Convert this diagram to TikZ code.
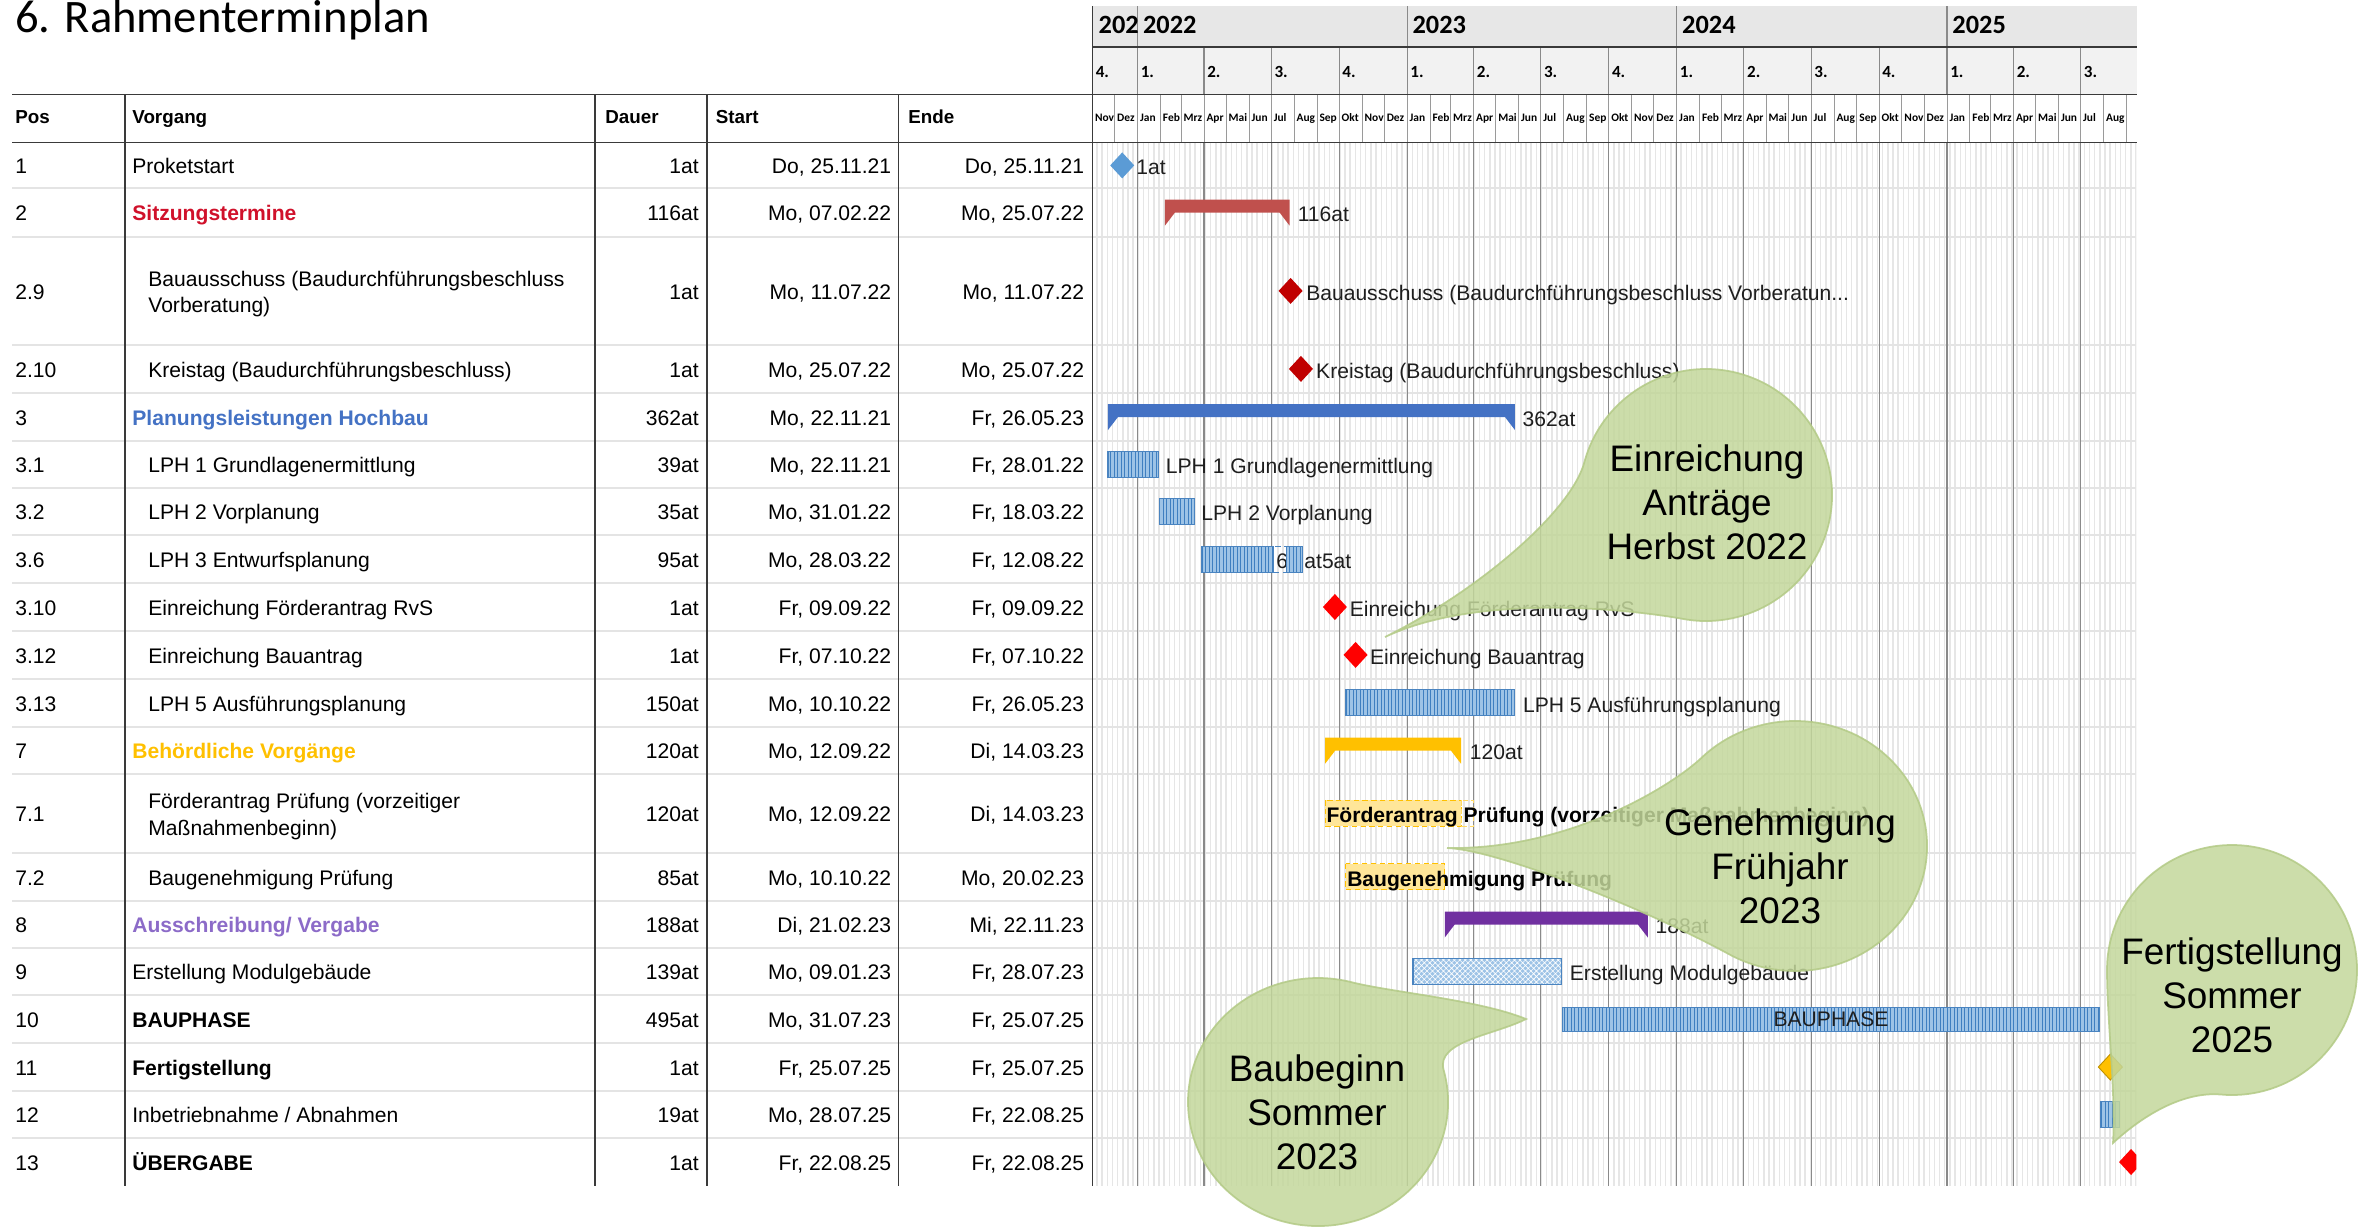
\documentclass[tikz,border=0pt]{standalone}
\usepackage{fontspec}
\setmainfont{Liberation Sans}
\newfontfamily\calfont{Carlito}
\usetikzlibrary{patterns.meta}

\definecolor{rowline}{HTML}{E4E4E4}
\definecolor{colline}{HTML}{3A3A3A}
\definecolor{qline}{HTML}{8A8A8A}
\definecolor{mline}{HTML}{9A9A9A}
\definecolor{weekend}{HTML}{E6E6E6}
\definecolor{yearfill}{HTML}{E7E7E7}
\definecolor{quartfill}{HTML}{F2F2F2}
\definecolor{sitzred}{HTML}{D0112B}
\definecolor{planblue}{HTML}{4472C4}
\definecolor{behgold}{HTML}{FFC000}
\definecolor{ausslila}{HTML}{8C6BC8}
\definecolor{barred}{HTML}{C0504D}
\definecolor{barblue}{HTML}{4472C4}
\definecolor{bargold}{HTML}{FFC000}
\definecolor{barlila}{HTML}{7030A0}
\definecolor{taskfill}{HTML}{9DC3E6}
\definecolor{taskline}{HTML}{3F7FC0}
\definecolor{taskedge}{HTML}{4A84C0}
\definecolor{msblue}{HTML}{5B9BD5}
\definecolor{msdark}{HTML}{C00000}
\definecolor{msred}{HTML}{FF0000}
\definecolor{msorange}{HTML}{FFC000}
\definecolor{msorangeedge}{HTML}{BF9000}
\definecolor{prueffill}{HTML}{FFE699}
\definecolor{bubfill}{HTML}{C3D79B}
\definecolor{bubedge}{HTML}{B3CA86}
\definecolor{lbltext}{HTML}{1E1E1E}

\tikzset{
  titel/.style={font=\calfont\fontsize{26.5}{31}\selectfont, anchor=base west, inner sep=0pt},
  cell/.style={font=\fontsize{12}{14}\selectfont, inner sep=0pt, text height=8.6pt, text depth=2.4pt},
  hdr/.style={font=\fontsize{10.7}{13}\selectfont\bfseries, anchor=base west, inner sep=0pt},
  vgplain/.style={},
  vgbold/.style={font=\fontsize{12}{14}\selectfont\bfseries},
  vgred/.style={vgbold, text=sitzred},
  vgblue/.style={vgbold, text=planblue},
  vggold/.style={vgbold, text=behgold},
  vglila/.style={vgbold, text=ausslila},
  vgtwo/.style={align=left, text height=, text depth=, font=\fontsize{12}{15.2}\selectfont},
  lbl/.style={cell, anchor=west, text=lbltext},
  lblbold/.style={lbl, font=\fontsize{12}{14}\selectfont\bfseries, text=black},
  yearlbl/.style={font=\calfont\fontsize{15}{18}\selectfont\bfseries, anchor=base west, inner sep=0pt},
  quartlbl/.style={font=\calfont\fontsize{9.7}{11}\selectfont\bfseries, anchor=base west, inner sep=0pt},
  monthlbl/.style={font=\calfont\fontsize{6.5}{8}\selectfont\bfseries, anchor=base west, inner sep=0pt},
  rowsep/.style={draw=rowline, line width=1.3pt},
  colsep/.style={draw=colline, line width=0.75pt},
  qsep/.style={draw=qline, line width=0.6pt},
  msep/.style={draw=mline, line width=0.5pt},
  taskbar/.style={draw=taskedge, line width=0.6pt, preaction={fill=taskfill},
    pattern={Lines[angle=90,distance=2pt,line width=0.5pt]}, pattern color=taskline},
  modulbar/.style={draw=taskedge, line width=0.6pt, preaction={fill=taskfill},
    pattern={Hatch[angle=45,distance=2.2pt,line width=0.35pt]}, pattern color=white},
  pruefbar/.style={fill=prueffill, draw=behgold, line width=0.4pt, densely dashed},
  bubble/.style={fill=bubfill, draw=bubedge, line width=1pt, opacity=0.85},
  bubtxt/.style={font=\fontsize{21}{25}\selectfont, align=center, inner sep=0pt},
}

% summary bar: row centre, start day, end day, colour
\newcommand{\sumbar}[4]{\fill[#4] (#2,#1-12.7) -- (#3,#1-12.7) -- (#3,#1+13.3)
  -- (#3-13.5,#1+0.3) -- (#2+13.5,#1+0.3) -- (#2,#1+13.3) -- cycle;}
% milestone: row centre, day, options
\newcommand{\milestone}[3]{\path[#3] (#2,#1) -- (#2+16.25,#1-13) -- (#2+32.5,#1)
  -- (#2+16.25,#1+13) -- cycle;}

\begin{document}
\begin{tikzpicture}[x=0.2mm, y=-0.2mm]
\useasboundingbox (0,0) rectangle (2379,1228);

\node[titel] (titel) at (15,32) {6. Rahmenterminplan};

% timeline header background
\fill[yearfill] (1092.5,6) rectangle (2137,47);
\fill[quartfill] (1092.5,47) rectangle (2137,94.5);

% weekends, in days from 1.1.2022
\begin{scope}[xshift=227.5mm, x=0.1477mm]
  \clip (-61.3,0) rectangle (1352.3,1190);
  \foreach \k in {-9,...,193}
    \fill[weekend] (7*\k,142.7) rectangle (7*\k+2,1185.7);
\end{scope}

% row lines
\foreach \ry in {188,236.7,345,392.7,440.7,487.7,535,583.3,630.7,679,726.7,774,852.7,900.7,947.7,995,1043.3,1090.7,1138.3}
  \draw[rowsep] (12,\ry) -- (2136,\ry);

\begin{scope}[xshift=227.5mm, x=0.1477mm]
  \clip (-61.3,0) rectangle (1352.3,1190);
  % grid and header
  \foreach \qd in {0,90,181,273,365,455,546,638,730,821,912,1004,1096,1186,1277} {
    \draw[qsep] (\qd,142.7) -- (\qd,1185.7);
    \draw[qsep] (\qd,47) -- (\qd,94.5);
  }
  \foreach \yd in {0,365,730,1096}
    \draw[qsep] (\yd,6) -- (\yd,47);
  \node[yearlbl] (j2021) at (-53,33.3) {202};
  \node[yearlbl] (j2022) at (7,33.3) {2022};
  \node[yearlbl] (j2023) at (372,33.3) {2023};
  \node[yearlbl] (j2024) at (737,33.3) {2024};
  \node[yearlbl] (j2025) at (1103,33.3) {2025};
  \foreach \qd/\qn [count=\i] in {-61/4,0/1,90/2,181/3,273/4,365/1,455/2,546/3,638/4,730/1,821/2,912/3,1004/4,1096/1,1186/2,1277/3}
    \node[quartlbl] (q\i) at (\qd+4,77.3) {\qn.};
  \foreach \md/\mn [count=\i] in {-61/Nov,-31/Dez,0/Jan,31/Feb,59/Mrz,90/Apr,120/Mai,151/Jun,181/Jul,212/Aug,243/Sep,273/Okt,304/Nov,334/Dez,365/Jan,396/Feb,424/Mrz,455/Apr,485/Mai,516/Jun,546/Jul,577/Aug,608/Sep,638/Okt,669/Nov,699/Dez,730/Jan,761/Feb,790/Mrz,821/Apr,851/Mai,882/Jun,912/Jul,943/Aug,974/Sep,1004/Okt,1035/Nov,1065/Dez,1096/Jan,1127/Feb,1155/Mrz,1186/Apr,1216/Mai,1247/Jun,1277/Jul,1308/Aug} {
    \draw[msep] (\md,94.5) -- (\md,142.7);
    \node[monthlbl] (mon\i) at (\md+3,121.5) {\mn};
  }
  \draw[msep] (1339,94.5) -- (1339,142.7);

  % bars
  \milestone{165.4}{-37}{fill=msblue}
  \node[lbl] (l1) at (-2,169.4) {1at};
  \sumbar{212.4}{37}{206}{barred}
  \node[lbl] (l2) at (216.5,216.4) {116at};
  \milestone{290.9}{191}{fill=msdark}
  \node[lbl] (l29) at (228,294.9) {Bauausschuss (Baudurchführungsbeschluss Vorberatun...};
  \milestone{368.9}{205}{fill=msdark}
  \node[lbl] (l210) at (241.5,372.9) {Kreistag (Baudurchführungsbeschluss)};
  \sumbar{416.7}{-40}{511}{barblue}
  \node[lbl] (l3) at (521,420.7) {362at};
  \path[taskbar] (-40,451.2) rectangle (28,477.2);
  \node[lbl] (l31) at (38,468.2) {LPH 1 Grundlagenermittlung};
  \path[taskbar] (30,498.4) rectangle (77,524.4);
  \node[lbl] (l32) at (86,515.4) {LPH 2 Vorplanung};
  \path[taskbar] (86,546.2) rectangle (184.5,572.2);
  \draw[taskedge, densely dashed, line width=0.5pt] (184.5,546.2) rectangle (201.6,572.2);
  \node[lbl] (l36a) at (187.5,563.2) {6};
  \path[taskbar] (201.6,546.2) rectangle (224,572.2);
  \node[lbl] (l36b) at (225.5,563.2) {at5at};
  \milestone{607}{251}{fill=msred}
  \node[lbl] (l310) at (287,611) {Einreichung Förderantrag RvS};
  \milestone{654.9}{279}{fill=msred}
  \node[lbl] (l312) at (314.5,658.9) {Einreichung Bauantrag};
  \path[taskbar] (282,689.9) rectangle (511,715.9);
  \node[lbl] (l313) at (521.5,706.9) {LPH 5 Ausführungsplanung};
  \sumbar{750.4}{254}{438}{bargold}
  \node[lbl] (l7) at (449.5,754.4) {120at};
  \path[pruefbar] (254,800.4) rectangle (438,826.4);
  \draw[behgold!60, densely dashed, line width=0.4pt] (438,800.4) rectangle (455,826.4);
  \node[lblbold] (l71) at (255.5,817.4) {Förderantrag Prüfung (vorzeitiger Maßnahmenbeginn)};
  \path[pruefbar] (282,863.7) rectangle (416,889.7);
  \node[lblbold] (l72) at (283.5,880.7) {Baugenehmigung Prüfung};
  \sumbar{924.2}{416}{691}{barlila}
  \node[lbl] (l8) at (701,928.2) {188at};
  \path[modulbar] (373,958.4) rectangle (574,984.4);
  \node[lbl] (l9) at (585,975.4) {Erstellung Modulgebäude};
  \path[taskbar] (576,1007.2) rectangle (1302,1031.7);
  \node[lbl, anchor=center] (l10) at (939,1021.2) {BAUPHASE};
  \milestone{1067}{1301}{fill=msorange, draw=msorangeedge, line width=0.5pt}
  \path[taskbar] (1304,1101.5) rectangle (1330,1127.5);
  \milestone{1162}{1329}{fill=msred}
\end{scope}

% table frame
\draw[colsep] (12,94.5) -- (2137,94.5);
\draw[colsep] (12,142.7) -- (2137,142.7);
\draw[colsep] (1092.5,47) -- (2137,47);
\foreach \cx in {124.9,595,707,898.6}
  \draw[colsep] (\cx,94.5) -- (\cx,1185.7);
\draw[colsep] (1092.5,6) -- (1092.5,1185.7);

% table head
\node[hdr] (hpos) at (15,123) {Pos};
\node[hdr] (hvorgang) at (132,123) {Vorgang};
\node[hdr] (hdauer) at (605,123) {Dauer};
\node[hdr] (hstart) at (715.5,123) {Start};
\node[hdr] (hende) at (908,123) {Ende};

% table rows
\foreach \rowy/\rowpos/\rowname/\rowx/\rowsty/\rowdur/\rowstart/\rowend [count=\i] in {
  165.4/1/Proketstart/132/vgplain/1at/{Do, 25.11.21}/{Do, 25.11.21},
  212.4/2/Sitzungstermine/132/vgred/116at/{Mo, 07.02.22}/{Mo, 25.07.22},
  290.9/2.9/{Bauausschuss (Baudurchführungsbeschluss\\Vorberatung)}/148/vgtwo/1at/{Mo, 11.07.22}/{Mo, 11.07.22},
  368.9/2.10/{Kreistag (Baudurchführungsbeschluss)}/148/vgplain/1at/{Mo, 25.07.22}/{Mo, 25.07.22},
  416.7/3/{Planungsleistungen Hochbau}/132/vgblue/362at/{Mo, 22.11.21}/{Fr, 26.05.23},
  464.2/3.1/{LPH 1 Grundlagenermittlung}/148/vgplain/39at/{Mo, 22.11.21}/{Fr, 28.01.22},
  511.4/3.2/{LPH 2 Vorplanung}/148/vgplain/35at/{Mo, 31.01.22}/{Fr, 18.03.22},
  559.2/3.6/{LPH 3 Entwurfsplanung}/148/vgplain/95at/{Mo, 28.03.22}/{Fr, 12.08.22},
  607/3.10/{Einreichung Förderantrag RvS}/148/vgplain/1at/{Fr, 09.09.22}/{Fr, 09.09.22},
  654.9/3.12/{Einreichung Bauantrag}/148/vgplain/1at/{Fr, 07.10.22}/{Fr, 07.10.22},
  702.9/3.13/{LPH 5 Ausführungsplanung}/148/vgplain/150at/{Mo, 10.10.22}/{Fr, 26.05.23},
  750.4/7/{Behördliche Vorgänge}/132/vggold/120at/{Mo, 12.09.22}/{Di, 14.03.23},
  813.4/7.1/{Förderantrag Prüfung (vorzeitiger\\Maßnahmenbeginn)}/148/vgtwo/120at/{Mo, 12.09.22}/{Di, 14.03.23},
  876.7/7.2/{Baugenehmigung Prüfung}/148/vgplain/85at/{Mo, 10.10.22}/{Mo, 20.02.23},
  924.2/8/{Ausschreibung/ Vergabe}/132/vglila/188at/{Di, 21.02.23}/{Mi, 22.11.23},
  971.4/9/{Erstellung Modulgebäude}/132/vgplain/139at/{Mo, 09.01.23}/{Fr, 28.07.23},
  1019.2/10/BAUPHASE/132/vgbold/495at/{Mo, 31.07.23}/{Fr, 25.07.25},
  1067/11/Fertigstellung/132/vgbold/1at/{Fr, 25.07.25}/{Fr, 25.07.25},
  1114.5/12/{Inbetriebnahme / Abnahmen}/132/vgplain/19at/{Mo, 28.07.25}/{Fr, 22.08.25},
  1162/13/ÜBERGABE/132/vgbold/1at/{Fr, 22.08.25}/{Fr, 22.08.25}} {
  \node[cell, anchor=west] (pos\i) at (15,\rowy+3) {\rowpos};
  \node[cell, anchor=west, \rowsty] (vg\i) at (\rowx,\rowy+3) {\rowname};
  \node[cell, anchor=east] (dauer\i) at (699,\rowy+3) {\rowdur};
  \node[cell, anchor=east] (start\i) at (891.5,\rowy+3) {\rowstart};
  \node[cell, anchor=east] (ende\i) at (1084.5,\rowy+3) {\rowend};
}

% callouts
\path[bubble] (1385,637) .. controls (1480,590) and (1571,511) .. (1584.3,462.4)
  arc[start angle=195, end angle=460, radius=126]
  .. controls (1635,610) and (1480,592) .. (1385,637) -- cycle;
\path[bubble] (1447,848) .. controls (1570,850) and (1672.7,785.1) .. (1701.7,757.6)
  arc[start angle=225, end angle=480, x radius=132, y radius=125]
  .. controls (1650,911) and (1500,850) .. (1447,848) -- cycle;
\path[bubble] (1443.6,1069.9) arc[start angle=345, end angle=645, x radius=130, y radius=124]
  .. controls (1390.4,992.1) and (1480,1000) .. (1526,1019)
  .. controls (1495,1035) and (1435.5,1041) .. (1443.6,1069.9) -- cycle;
\path[bubble] (2107,970) arc[start angle=180, end angle=455, radius=125]
  .. controls (2181,1091) and (2140,1118) .. (2113,1143)
  .. controls (2116,1095) and (2107,1020) .. (2107,970) -- cycle;

\node[bubtxt] (einreichung) at (1707,502) {Einreichung\\Anträge\\Herbst 2022};
\node[bubtxt] (genehmigung) at (1780,866) {Genehmigung\\Frühjahr\\2023};
\node[bubtxt] (baubeginn) at (1317,1112) {Baubeginn\\Sommer\\2023};
\node[bubtxt] (fertig) at (2232,995) {Fertigstellung\\Sommer\\2025};
\end{tikzpicture}
\end{document}
